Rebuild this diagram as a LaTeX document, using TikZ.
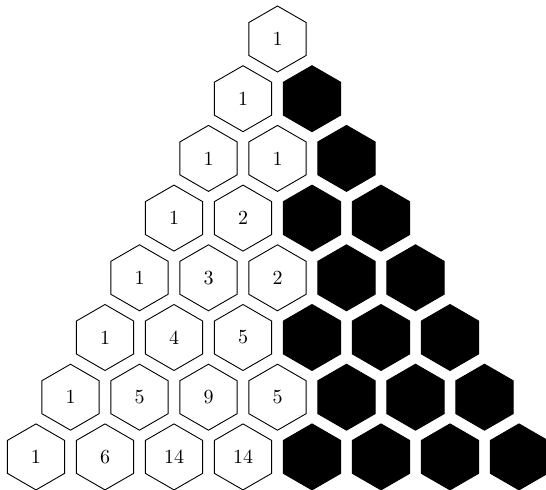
\documentclass[tikz,border=0pt]{standalone}
\usetikzlibrary{shapes.geometric}
\begin{document}
\begin{tikzpicture}[x=0.5pt,y=-0.5pt,
  hexbase/.style={regular polygon, regular polygon sides=6, shape border rotate=30,
    minimum size=66pt*0.5*2/2*2/2, inner sep=0pt, outer sep=0pt, line width=0.45pt},
  whitehex/.style={hexbase, draw=black, fill=white},
  blackhex/.style={hexbase, draw=black, fill=black}]
\useasboundingbox (0,0) rectangle (546,490);
\def\vals{{{1},{1},{1,1},{1,2},{1,3,2},{1,4,5},{1,5,9,5},{1,6,14,14}}}
\foreach \r in {0,...,7}{
  \pgfmathtruncatemacro{\nw}{floor(\r/2)+1}
  \foreach \k in {0,...,\r}{
    \pgfmathsetmacro{\xx}{277.5-34.5*\r+69*\k}
    \pgfmathsetmacro{\yy}{39+59.7*\r}
    \ifnum\k<\nw
      \pgfmathtruncatemacro{\v}{\vals[\r][\k]}
      \node[whitehex] (h\r-\k) at (\xx,\yy) {\v};
    \else
      \node[blackhex] (h\r-\k) at (\xx,\yy) {};
    \fi
  }
}
\end{tikzpicture}
\end{document}
